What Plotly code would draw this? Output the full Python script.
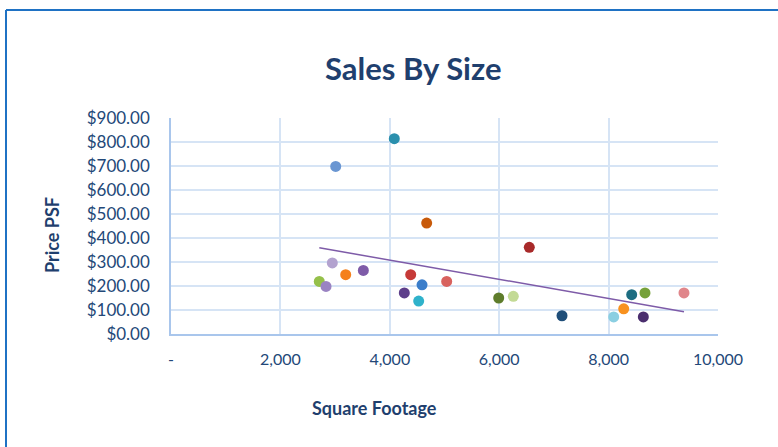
import numpy as np
import plotly.graph_objects as go

sqft = [4082, 3011, 4674, 2949, 3194, 3516, 2711, 2834, 4382, 4589, 4265, 4528,
        5040, 6550, 5991, 6258, 7148, 8093, 8276, 8422, 8665, 8635, 9378]
price_psf = [814, 698, 462, 296, 247, 265, 219, 198, 247, 205, 171, 137,
             219, 361, 150, 157, 76, 71, 105, 164, 171, 71, 171]
point_colors = ["#2A8FAD", "#6A96D2", "#C85A0A", "#B3A2CF", "#F5801C", "#7E5BA8",
                "#95C04A", "#9A83C2", "#C63A38", "#3B7DCA", "#5D3E8A", "#2FB2CB",
                "#D8625E", "#A82A2A", "#5E7C2B", "#C3DA95", "#1F4E79", "#8BCFE2",
                "#F8921F", "#1D6D81", "#76A13A", "#4B2E6E", "#E0868B"]

x_tickvals = [0, 2000, 4000, 6000, 8000, 10000]
x_ticktext = ["-", "2,000", "4,000", "6,000", "8,000", "10,000"]
y_tickvals = [0, 100, 200, 300, 400, 500, 600, 700, 800, 900]
y_ticktext = ["$0.00", "$100.00", "$200.00", "$300.00", "$400.00", "$500.00",
              "$600.00", "$700.00", "$800.00", "$900.00"]

W, H = 778, 447
ML, MR, MT, MB = 171, 60, 118, 113
PW, PH = W - ML - MR, H - MT - MB

txt = "#234878"
font = "Lato, Open Sans, sans-serif"

fig = go.Figure()

# linear trendline computed from the data
m, b = np.polyfit(sqft, price_psf, 1)
xs = np.array([min(sqft), max(sqft)])
fig.add_trace(go.Scatter(x=xs, y=m * xs + b, mode="lines",
                         line=dict(color="#7E5BA8", width=1.5),
                         hoverinfo="skip", showlegend=False))

fig.add_trace(go.Scatter(x=sqft, y=price_psf, mode="markers",
                         marker=dict(size=11, color=point_colors,
                                     line=dict(width=0)),
                         showlegend=False))

fig.update_xaxes(range=[0, 10000], tickvals=x_tickvals, ticktext=x_ticktext,
                 showgrid=True, gridcolor="#D6E4F5", gridwidth=1.5,
                 showline=True, linecolor="#A9C6EC", linewidth=1.5,
                 zeroline=False, ticks="", ticklabelstandoff=10,
                 tickfont=dict(family=font, size=16, color=txt))
fig.update_yaxes(range=[0, 900], tickvals=y_tickvals, ticktext=y_ticktext,
                 showgrid=True, gridcolor="#D6E4F5", gridwidth=1.5,
                 showline=True, linecolor="#A9C6EC", linewidth=1.5,
                 zeroline=False, ticks="", ticklabelstandoff=16,
                 tickfont=dict(family=font, size=17, color=txt))

def px(xp):
    return (xp - ML) / PW

def py(yp):
    return (H - MB - yp) / PH

fig.update_layout(
    width=W, height=H,
    margin=dict(l=ML, r=MR, t=MT, b=MB),
    paper_bgcolor="white", plot_bgcolor="white",
    font=dict(family=font, color=txt),
    annotations=[
        dict(text="<b>Sales By Size</b>", xref="paper", yref="paper",
             x=px(413), y=py(68), xanchor="center", yanchor="middle",
             showarrow=False, font=dict(size=31, color="#1F3F6E", family=font)),
        dict(text="<b>Price PSF</b>", xref="paper", yref="paper",
             x=px(52), y=py(235), xanchor="center", yanchor="middle",
             textangle=-90, showarrow=False,
             font=dict(size=18, color="#1F3F6E", family=font)),
        dict(text="<b>Square Footage</b>", xref="paper", yref="paper",
             x=px(374), y=py(408), xanchor="center", yanchor="middle",
             showarrow=False, font=dict(size=18, color="#1F3F6E", family=font)),
    ],
    shapes=[
        dict(type="line", xref="paper", yref="paper",
             x0=px(6), x1=px(W + 5), y0=py(10), y1=py(10),
             line=dict(color="#1F72C4", width=2)),
        dict(type="line", xref="paper", yref="paper",
             x0=px(6), x1=px(6), y0=py(10), y1=py(H + 5),
             line=dict(color="#1F72C4", width=2)),
    ],
)

fig.write_html("out.html")
